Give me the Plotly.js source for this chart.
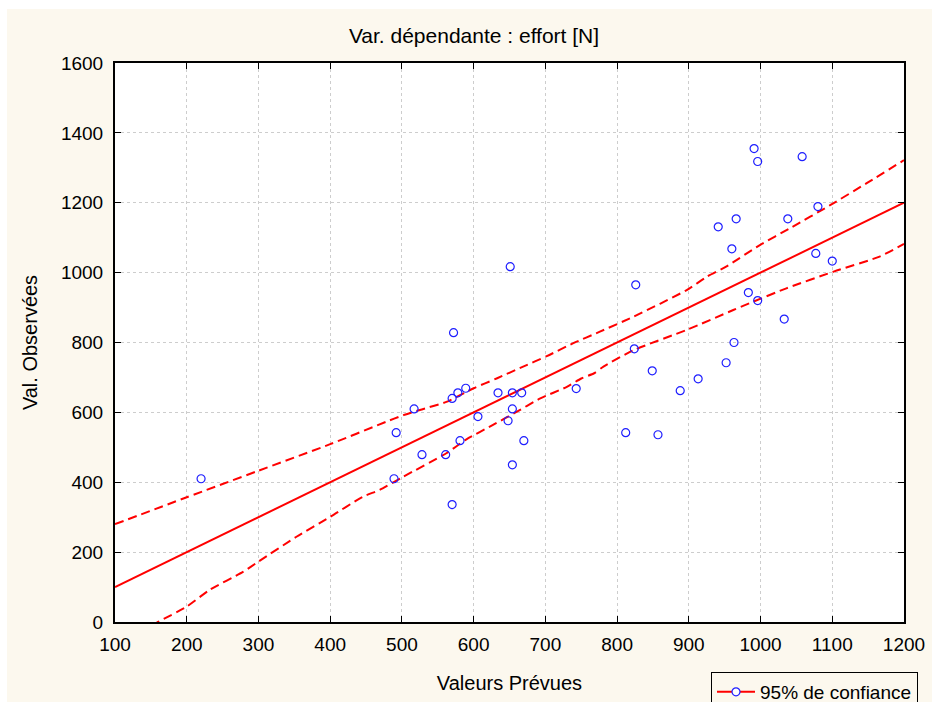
<!DOCTYPE html>
<html>
<head>
<meta charset="utf-8">
<script src="https://cdn.plot.ly/plotly-3.0.1.min.js"></script>
<style>
  html, body { margin: 0; padding: 0; background: #ffffff; width: 932px; height: 702px; overflow: hidden; }
  #chart { position: absolute; left: 7px; top: 9px; width: 925px; height: 693px; }
</style>
</head>
<body>
<div id="chart"></div>
<script>
// Valeurs prévues (x) et observées (y)
const predX = [220, 489, 492, 517, 528, 561, 570, 570, 572, 578, 581, 589, 606, 634, 648, 651,
  654, 654, 654, 667, 670, 743, 812, 824, 826, 849, 857, 888, 913, 941, 952, 960, 963, 966,
  983, 991, 996, 996, 1033, 1038, 1058, 1077, 1080, 1100];
const obsY = [410, 410, 542, 610, 479, 479, 336, 640, 828, 656, 519, 669, 588, 656, 576, 1017,
  656, 610, 450, 656, 519, 668, 542, 782, 965, 719, 536, 662, 696, 1131, 742, 1068, 800, 1154,
  943, 1355, 920, 1318, 867, 1154, 1332, 1055, 1189, 1033];

// Droite de régression
const fitX = [100, 1200];
const fitY = [100, 1200];

// Bande de confiance 95% (supérieure / inférieure)
const upperX = [100, 200, 300, 400, 478, 502, 525, 562, 600, 632, 669, 702, 739, 776, 823, 897,
  925, 952, 999, 1041, 1097, 1148, 1200];
const upperY = [280, 357, 433, 509, 573, 592, 607, 630, 669, 697, 731, 761, 798, 831, 874, 950,
  988, 1017, 1079, 1127, 1193, 1256, 1322];
const lowerX = [100, 160, 200, 232, 279, 300, 353, 400, 446, 469, 502, 562, 590, 627, 656, 693,
  730, 750, 768, 781, 823, 897, 962, 990, 1036, 1102, 1166, 1200];
const lowerY = [-70, 0, 44, 92, 144, 173, 244, 301, 359, 378, 416, 483, 523, 564, 597, 640,
  673, 697, 712, 731, 778, 836, 893, 917, 955, 1003, 1046, 1082];

const legendLabel = '95% de confiance';
const titleText = 'Var. dépendante : effort [N]';
const xTitle = 'Valeurs Prévues';
const yTitle = 'Val. Observées';

const RED = '#FF0000';
const BLUE = '#1E1EFF';
const FONT = 'Liberation Sans, Arial, sans-serif';

const traces = [
  { x: upperX, y: upperY, mode: 'lines', showlegend: false, hoverinfo: 'skip',
    line: { color: RED, width: 2, dash: '9px,5px', shape: 'spline', smoothing: 0.6 } },
  { x: lowerX, y: lowerY, mode: 'lines', showlegend: false, hoverinfo: 'skip',
    line: { color: RED, width: 2, dash: '9px,5px', shape: 'spline', smoothing: 0.6 } },
  { x: fitX, y: fitY, mode: 'lines', showlegend: false,
    line: { color: RED, width: 2 } },
  { x: predX, y: obsY, mode: 'markers', showlegend: false,
    marker: { symbol: 'circle-open', size: 8, color: BLUE, line: { color: BLUE, width: 1.2 } } },
  { x: [null], y: [null], mode: 'lines+markers', name: legendLabel, showlegend: true,
    line: { color: RED, width: 2 },
    marker: { symbol: 'circle', size: 8, color: '#FFFFFF', line: { color: BLUE, width: 1.2 } } }
];

const axisCommon = {
  ticks: 'inside', ticklen: 6, tickcolor: '#000', tickwidth: 1,
  showline: true, linecolor: '#000', linewidth: 2, mirror: 'ticks',
  showgrid: true, gridcolor: '#CDCDCD', griddash: 'dot', gridwidth: 1,
  zeroline: false, tickfont: { family: FONT, size: 19, color: '#000' },
  automargin: false
};

const layout = {
  width: 925, height: 693,
  paper_bgcolor: '#FCF8EE', plot_bgcolor: '#FFFFFF',
  font: { family: FONT, color: '#000' },
  margin: { l: 108, r: 28, t: 54, b: 80, autoexpand: false },
  title: { text: titleText, x: (474 - 7) / 925, xref: 'container', y: 1 - 27 / 693, yref: 'container',
    yanchor: 'middle', xanchor: 'center', font: { family: FONT, size: 21, color: '#000' } },
  xaxis: Object.assign({}, axisCommon, {
    range: [100, 1200], tick0: 100, dtick: 100, ticklabelstandoff: 4,
    title: { text: xTitle, standoff: 22, font: { family: FONT, size: 20, color: '#000' } }
  }),
  yaxis: Object.assign({}, axisCommon, {
    range: [0, 1600], tick0: 0, dtick: 200, ticklabelstandoff: 6,
    title: { text: yTitle, standoff: 18, font: { family: FONT, size: 20, color: '#000' } }
  }),
  showlegend: true,
  legend: {
    x: (711 - 115) / 789, y: (622 - 672) / 559, xanchor: 'left', yanchor: 'top',
    bgcolor: 'rgba(0,0,0,0)', bordercolor: '#000', borderwidth: 1, itemwidth: 38,
    font: { family: FONT, size: 19, color: '#000' }
  }
};

Plotly.newPlot('chart', traces, layout, { displayModeBar: false, staticPlot: true });
</script>
</body>
</html>
